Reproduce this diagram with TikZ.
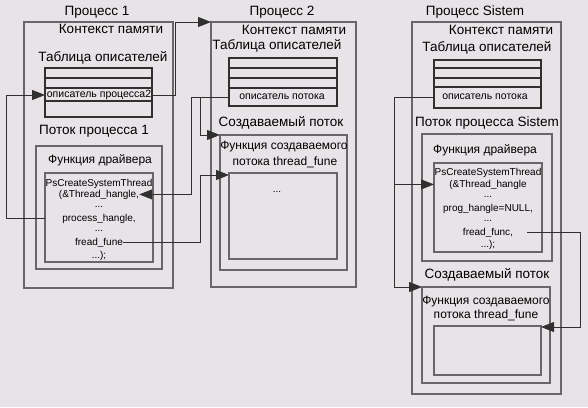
\documentclass[tikz,border=0pt]{standalone}
\usepackage{fontspec}
\setmainfont{Liberation Sans}
\usetikzlibrary{arrows.meta,calc}
\definecolor{bg}{HTML}{E7E3E7}
\definecolor{boxgray}{HTML}{686668}
\definecolor{lineblk}{HTML}{303030}
\begin{document}
\begin{tikzpicture}[x=1pt,y=-1pt,
  boxst/.style={draw=boxgray, line width=1.8pt, anchor=north west, inner sep=0pt, outer sep=0pt},
  tabst/.style={draw=lineblk, line width=1.3pt, anchor=north west, inner sep=0pt, outer sep=0pt},
  tline/.style={draw=lineblk, line width=1.3pt},
  big/.style={inner sep=0pt, font=\fontsize{13.5}{16}\selectfont},
  mid/.style={inner sep=0pt, font=\fontsize{12}{14}\selectfont},
  small/.style={inner sep=0pt, font=\fontsize{10.5}{12}\selectfont},
  code/.style={inner sep=0pt, anchor=base, font=\fontsize{10}{12}\selectfont},
  conn/.style={draw=lineblk, line width=1pt},
  arr/.style={-{Triangle[length=13pt,width=10pt]}}
]
\useasboundingbox (0,0) rectangle (588,407);
\fill[bg] (0,0) rectangle (588,407);

% ---------- Process 1 ----------
\node[big] (p1t) at (97,12) {Процесс 1};
\node[boxst, minimum width=149pt, minimum height=266pt] (p1box) at (24,22) {};
\node[big] (p1ctx) at (111,29) {Контекст памяти};
\node[big] (p1tt) at (103,58) {Таблица описателей};
\node[tabst, minimum width=107pt, minimum height=49pt] (p1tab) at (45,68) {};
\draw[tline] (45,78) -- (152,78);
\draw[tline] (45,88) -- (152,88);
\draw[tline] (45,101) -- (152,101);
\node[small] (p1row) at (99,95) {описатель процесса2};
\node[big] (p1thr) at (94,131) {Поток процесса 1};
\node[boxst, minimum width=126pt, minimum height=123pt] (p1th) at (36,146) {};
\node[mid] (p1fn) at (100,160) {Функция драйвера};
\node[boxst, minimum width=108pt, minimum height=89pt] (p1fb) at (45,173) {};
\node[code] (p1l1) at (99,186) {PsCreateSystemThread};
\node[code] (p1l2) at (99,197) {(\&Thread\_hangle,};
\node[code] (p1l3) at (99,207) {...};
\node[code] (p1l4) at (99,221) {process\_hangle,};
\node[code] (p1l5) at (99,231) {...};
\node[code] (p1l6) at (99,245) {fread\_fune};
\node[code] (p1l7) at (99,258) {...);};

% ---------- Process 2 ----------
\node[big] (p2t) at (282,12) {Процесс 2};
\node[boxst, minimum width=145pt, minimum height=265pt] (p2box) at (211,22) {};
\node[big] (p2ctx) at (294,30) {Контекст памяти};
\node[big] (p2tt) at (277,46) {Таблица описателей};
\node[tabst, minimum width=108pt, minimum height=48pt] (p2tab) at (229,58) {};
\draw[tline] (229,68) -- (337,68);
\draw[tline] (229,78) -- (337,78);
\draw[tline] (229,88) -- (337,88);
\node[small] (p2row) at (282,97) {описатель потока};
\node[big] (p2thr) at (281,123) {Создаваемый поток};
\node[boxst, minimum width=127pt, minimum height=135pt] (p2th) at (220,135) {};
\node[mid] (p2fn1) at (284,147) {Функция создаваемого};
\node[mid] (p2fn2) at (285,162) {потока thread\_fune};
\node[boxst, minimum width=108pt, minimum height=86pt] (p2ib) at (229,173) {};
\node[code] (p2dots) at (277,192) {...};

% ---------- Process Sistem ----------
\node[big] (p3t) at (475,12) {Процесс Sistem};
\node[boxst, minimum width=149pt, minimum height=372pt] (p3box) at (412,22) {};
\node[big] (p3ctx) at (501,30) {Контекст памяти};
\node[big] (p3tt) at (487,48) {Таблица описателей};
\node[tabst, minimum width=107pt, minimum height=48pt] (p3tab) at (434,60) {};
\draw[tline] (434,68) -- (541,68);
\draw[tline] (434,78) -- (541,78);
\draw[tline] (434,87) -- (541,87);
\node[small] (p3row) at (485,97) {описатель потока};
\node[big] (p3thr) at (487,123) {Поток процесса Sistem};
\node[boxst, minimum width=130pt, minimum height=127pt] (p3th) at (422,134) {};
\node[mid] (p3fn) at (485,150) {Функция драйвера};
\node[boxst, minimum width=108pt, minimum height=89pt] (p3fb) at (434,163) {};
\node[code] (p3l1) at (488,175) {PsCreateSystemThread};
\node[code] (p3l2) at (488,187) {(\&Thread\_hangle};
\node[code] (p3l3) at (488,197) {...};
\node[code] (p3l4) at (488,211) {prog\_hangle=NULL,};
\node[code] (p3l5) at (488,221) {...};
\node[code] (p3l6) at (488,235) {fread\_func,};
\node[code] (p3l7) at (488,247) {...);};
\node[big] (p3thr2) at (487,275) {Создаваемый поток};
\node[boxst, minimum width=128pt, minimum height=96pt] (p3th2) at (422,287) {};
\node[mid] (p3fc1) at (486,302) {Функция создаваемого};
\node[mid] (p3fc2) at (486,315) {потока thread\_fune};
\node[boxst, minimum width=107pt, minimum height=49pt] (p3ib) at (434,326) {};

% ---------- Connectors ----------
\draw[conn,arr] (p1fb.west |- p1l4) -- ++(-39,0) |- (p1tab.west |- p1row);
\draw[conn,arr] (p1row.east) -- ++(24,0) |- (p2box.north west);
\draw[conn,arr] (p2tab.west |- p2row) -- ++(-38,0) |- (p1l2.east);
\draw[conn,arr] ($(p2tab.west |- p2row)+(-29,0)$) |- (p2th.north west);
\draw[conn,arr] (p1l6.east) -| ($(p2ib.north west)+(-29,2)$) -- ($(p2ib.north west)+(0,2)$);
\draw[conn,arr] (p3tab.west |- p3row) -- ++(-40,0) |- (p3th2.north west);
\draw[conn,arr] ($(p3tab.west |- p3row)+(-40,0)$) |- (p3fb.west |- p3l2);
\draw[conn,arr] ($(p3l6.east)+(14,0)$) -- ++(53,0) |- ($(p3ib.north east)+(0,1)$);
\end{tikzpicture}
\end{document}
